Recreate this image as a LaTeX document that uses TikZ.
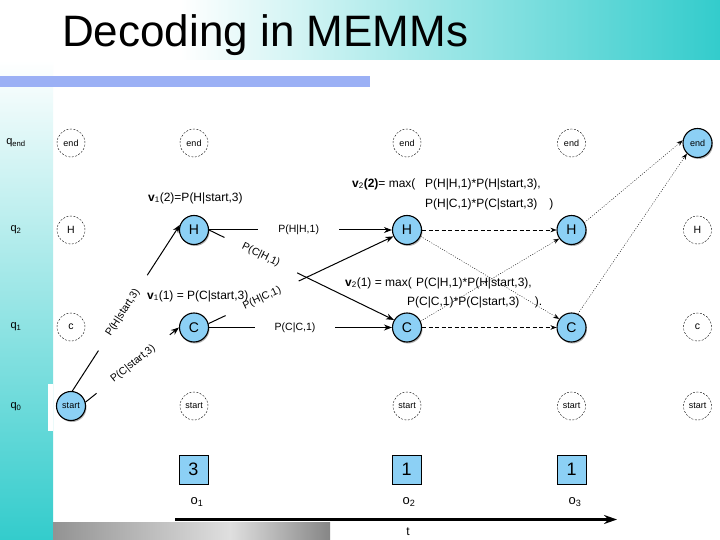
\documentclass[tikz,border=0pt]{standalone}
\usepackage{fontspec}
\setmainfont{Liberation Sans}
\usepackage{xcolor}
\usetikzlibrary{arrows.meta, shadows}
\definecolor{stateblue}{RGB}{140,208,245}
\definecolor{slideteal}{RGB}{51,204,204}
\definecolor{barblue}{RGB}{155,176,245}
\tikzset{
>={Stealth[length=8pt,width=6pt]}, % filled arrow heads
active/.style={circle, draw, line width=1.1pt, fill=stateblue, minimum size=29pt, inner sep=0pt, font=\fontsize{14}{14}\selectfont,
  drop shadow={shadow xshift=1pt, shadow yshift=-1.5pt, opacity=0.6}}, % states on the best path
idle/.style={circle, draw, thin, dash pattern=on 2pt off 1.5pt, minimum size=28pt, inner sep=0pt, font=\fontsize{9}{9}\selectfont}, % unused states
obs/.style={rectangle, draw, thin, fill=stateblue, minimum size=29pt, font=\fontsize{18}{18}\selectfont,
  drop shadow={shadow xshift=1pt, shadow yshift=-1pt, opacity=0.5}}, % observations
rowlab/.style={font=\fontsize{11}{11}\selectfont},
hop/.style={->, line width=1pt},
dashhop/.style={->, thin, dash pattern=on 4pt off 2.5pt, >={Stealth[length=6pt,width=4.5pt]}},
dothop/.style={->, thin, dash pattern=on 1pt off 1.5pt, >={Stealth[length=6pt,width=4.5pt]}},
gap/.style={sloped, fill=white, inner xsep=20pt, inner ysep=1pt, font=\fontsize{10.5}{12}\selectfont}, % label that cuts the line
formula/.style={anchor=west, inner sep=0pt, font=\fontsize{12}{12}\selectfont},
}

\begin{document}
\begin{tikzpicture}[x=1pt, y=-1pt]
    \useasboundingbox (0,0) rectangle (720,540);
    % slide background
    \fill[white] (0,0) rectangle (720,540);
    \shade[top color=white, bottom color=slideteal] (0,60) rectangle (53,540);
    \shade[left color=white, right color=slideteal] (180,0) rectangle (720,60);
    \fill[barblue] (0,76) rectangle (370,87);
    \shade[left color=gray!85, right color=gray!25] (53,522) rectangle (230,540);
    \shade[left color=gray!25, right color=gray!95] (230,522) rectangle (330,540);
    \fill[white] (48,384) rectangle (53,431);
    \node[anchor=base west, inner sep=0pt, font=\fontsize{44}{44}\selectfont] (title) at (62,47) {Decoding in MEMMs};

    % row labels
    \node[rowlab] (qend) at (16,143) {q\textsubscript{end}};
    \node[rowlab] (q2) at (16,230) {q\textsubscript{2}};
    \node[rowlab] (q1) at (16,327) {q\textsubscript{1}};
    \node[rowlab] (q0) at (16,407) {q\textsubscript{0}};

    % states
    \node[idle] (end0) at (71,143) {end};
    \node[idle, font=\fontsize{10.5}{10.5}\selectfont] (h0) at (71,230) {H};
    \node[idle, font=\fontsize{10.5}{10.5}\selectfont] (c0) at (71,327) {c};
    \node[active, font=\fontsize{9}{9}\selectfont] (start0) at (71,406) {start};

    \node[idle] (end1) at (194,143) {end};
    \node[active] (h1) at (194,230) {H};
    \node[active] (c1) at (194,327.5) {C};
    \node[idle] (start1) at (194,406) {start};

    \node[idle] (end2) at (407,143) {end};
    \node[active] (h2) at (407,230) {H};
    \node[active] (c2) at (407,327.5) {C};
    \node[idle] (start2) at (407,406) {start};

    \node[idle] (end3) at (571.5,143) {end};
    \node[active] (h3) at (571.5,230) {H};
    \node[active] (c3) at (571.5,327.5) {C};
    \node[idle] (start3) at (571.5,406) {start};

    \node[active, font=\fontsize{9}{9}\selectfont] (end4) at (697.5,143) {end};
    \node[idle, font=\fontsize{10.5}{10.5}\selectfont] (h4) at (697.5,230) {H};
    \node[idle, font=\fontsize{10.5}{10.5}\selectfont] (c4) at (697.5,327) {c};
    \node[idle] (start4) at (697.5,406) {start};

    % first step
    \draw[hop] (start0.85) -- node[gap, pos=0.47, inner xsep=18pt] {P(H|start,3)} (h1.160);
    \draw[hop] (start0.15) -- node[gap, pos=0.51] {P(C|start,3)} (c1.west);
    \draw[hop] (h1.east) -- node[gap, pos=0.49] {P(H|H,1)} (h2.west);
    \draw[hop] (c1.east) -- node[gap, pos=0.47] {P(C|C,1)} (c2.west);
    \draw[hop] (h1.east) -- node[gap, pos=0.28] {P(C|H,1)} (c2.150);
    \draw[hop] (c1.15) -- node[gap, pos=0.29] {P(H|C,1)} (h2.205);

    % later steps
    \draw[dashhop] (h2.east) -- (h3.west);
    \draw[dashhop] (c2.east) -- (c3.west);
    \draw[dothop] (h2.-25) -- (c3.145);
    \draw[dothop] (c2.25) -- (h3.215);
    \draw[dothop] (h3.30) -- (end4.170);
    \draw[dothop] (c3.65) -- (end4.225);

    % viterbi values
    \node[formula] (v12) at (148,198) {\textbf{v}\textsubscript{1}(2)=P(H|start,3)};
    \node[formula] (v11) at (147,296) {\textbf{v}\textsubscript{1}(1) = P(C|start,3)};
    \node[formula] (v22) at (352,184) {\textbf{v}\textsubscript{2}\textbf{(2)}= max(};
    \node[formula] (v22a) at (425,184) {P(H|H,1)*P(H|start,3),};
    \node[formula] (v22b) at (425,204) {P(H|C,1)*P(C|start,3)\quad)};
    \node[formula] (v21) at (345,283) {\textbf{v}\textsubscript{2}(1) = max(};
    \node[formula] (v21a) at (416,283) {P(C|H,1)*P(H|start,3),};
    \node[formula] (v21b) at (407,302) {P(C|C,1)*P(C|start,3)\quad\ ).};

    % observations
    \node[obs] (ob1) at (193.5,469.5) {3};
    \node[obs] (ob2) at (406.5,469.5) {1};
    \node[obs] (ob3) at (571.5,469.5) {1};
    \node[font=\fontsize{13}{13}\selectfont] (o1) at (197,502) {o\textsubscript{1}};
    \node[font=\fontsize{13}{13}\selectfont] (o2) at (409,502) {o\textsubscript{2}};
    \node[font=\fontsize{13}{13}\selectfont] (o3) at (575,502) {o\textsubscript{3}};

    % time axis
    \coordinate (tstart) at (175,519.5);
    \coordinate (tend) at (617,519.5);
    \draw[->, line width=2.5pt, >={Stealth[length=13pt,width=9pt]}] (tstart) -- (tend);
    \node[font=\fontsize{12}{12}\selectfont] (tlab) at (408,532) {t};
\end{tikzpicture}
\end{document}
